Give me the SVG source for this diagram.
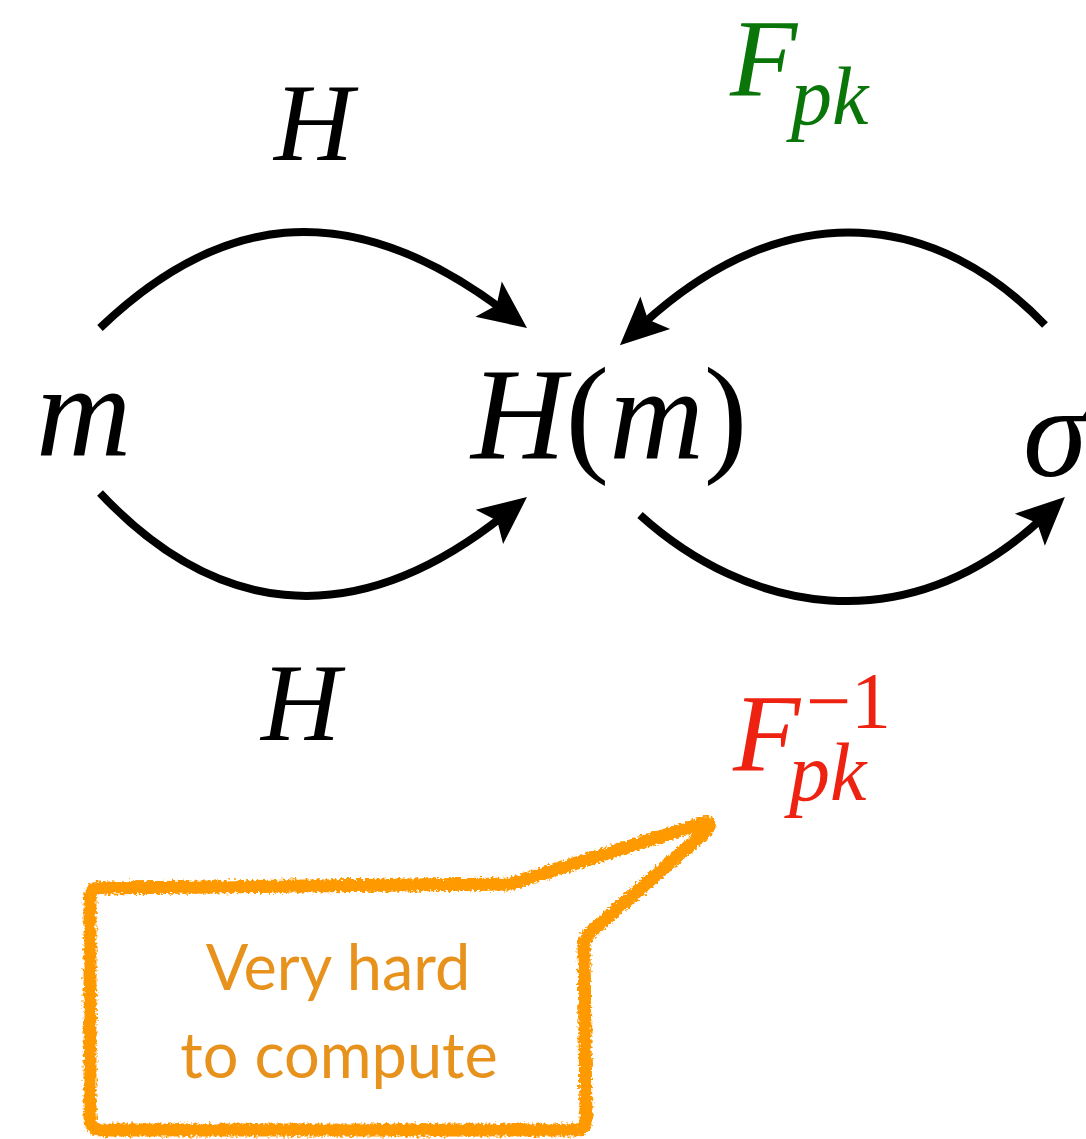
<svg xmlns="http://www.w3.org/2000/svg" width="1086" height="1139" viewBox="0 0 1086 1139">
<style>
.math{font-family:"Liberation Serif","Times New Roman",serif;font-style:italic}
.up{font-family:"Liberation Serif","Times New Roman",serif;font-style:normal}
.arc{fill:none;stroke:#000;stroke-width:8}
.note{font-family:Lato,"Noto Sans",sans-serif;font-size:63px;fill:#E8921E;text-anchor:middle}
</style>
<defs>
<marker id="ah" markerUnits="userSpaceOnUse" orient="auto" overflow="visible" refX="0" refY="0" markerWidth="1" markerHeight="1">
<path d="M30,0 L-18,-22 L-8,0 L-18,22 Z" fill="#000"/>
</marker>
<filter id="rough" x="-5%" y="-5%" width="110%" height="110%">
<feTurbulence type="fractalNoise" baseFrequency="0.35" numOctaves="2" seed="3" result="n"/>
<feDisplacementMap in="SourceGraphic" in2="n" scale="7" xChannelSelector="R" yChannelSelector="G"/>
</filter>
</defs>
<g id="connectors">
<path class="arc" d="M100,328 C215,218 343,190 503,310" marker-end="url(#ah)"/>
<path class="arc" d="M1045,325 C940,215 790,189 642,325" marker-end="url(#ah)"/>
<path class="arc" d="M100,493 C210,610 347,640 503.5,515.7" marker-end="url(#ah)"/>
<path class="arc" d="M640,515 C745,610 904.5,647 1043,517.5" marker-end="url(#ah)"/>
</g>
<g id="label-H-top"><text class="math" x="274" y="160" font-size="110">H</text></g>
<g id="label-H-bottom"><text class="math" x="261" y="740" font-size="110">H</text></g>
<g id="label-Fpk" fill="#0A760A">
<text class="math" x="730" y="95" font-size="110">F</text>
<text class="math" x="791" y="124" font-size="82">pk</text>
</g>
<g id="label-Fpk-inv" fill="#EE2211">
<text class="math" x="733" y="770" font-size="110">F</text>
<text class="up" x="806" y="728" font-size="80">−1</text>
<text class="math" x="789" y="800" font-size="82">pk</text>
</g>
<g id="node-m"><text class="math" x="36" y="455" font-size="132">m</text></g>
<g id="node-Hm"><text class="math" x="471" y="458" font-size="131">H<tspan class="up">(</tspan>m<tspan class="up">)</tspan></text></g>
<g id="node-sigma"><text class="math" x="1023" y="476" font-size="130">σ</text></g>
<g id="callout">
<path d="M100,888 L510,884 L704,823 Q713,821 707,830 L591,932 Q584,938 584,947 L586,1119 Q586,1130 575,1130 L101,1130 Q90,1130 90,1119 L90,899 Q90,888 100,888 Z" fill="none" stroke="#FF9900" stroke-width="13" stroke-linejoin="round" filter="url(#rough)"/>
<text class="note" x="338" y="990">Very hard</text>
<text class="note" x="339" y="1078">to compute</text>
</g>
</svg>
